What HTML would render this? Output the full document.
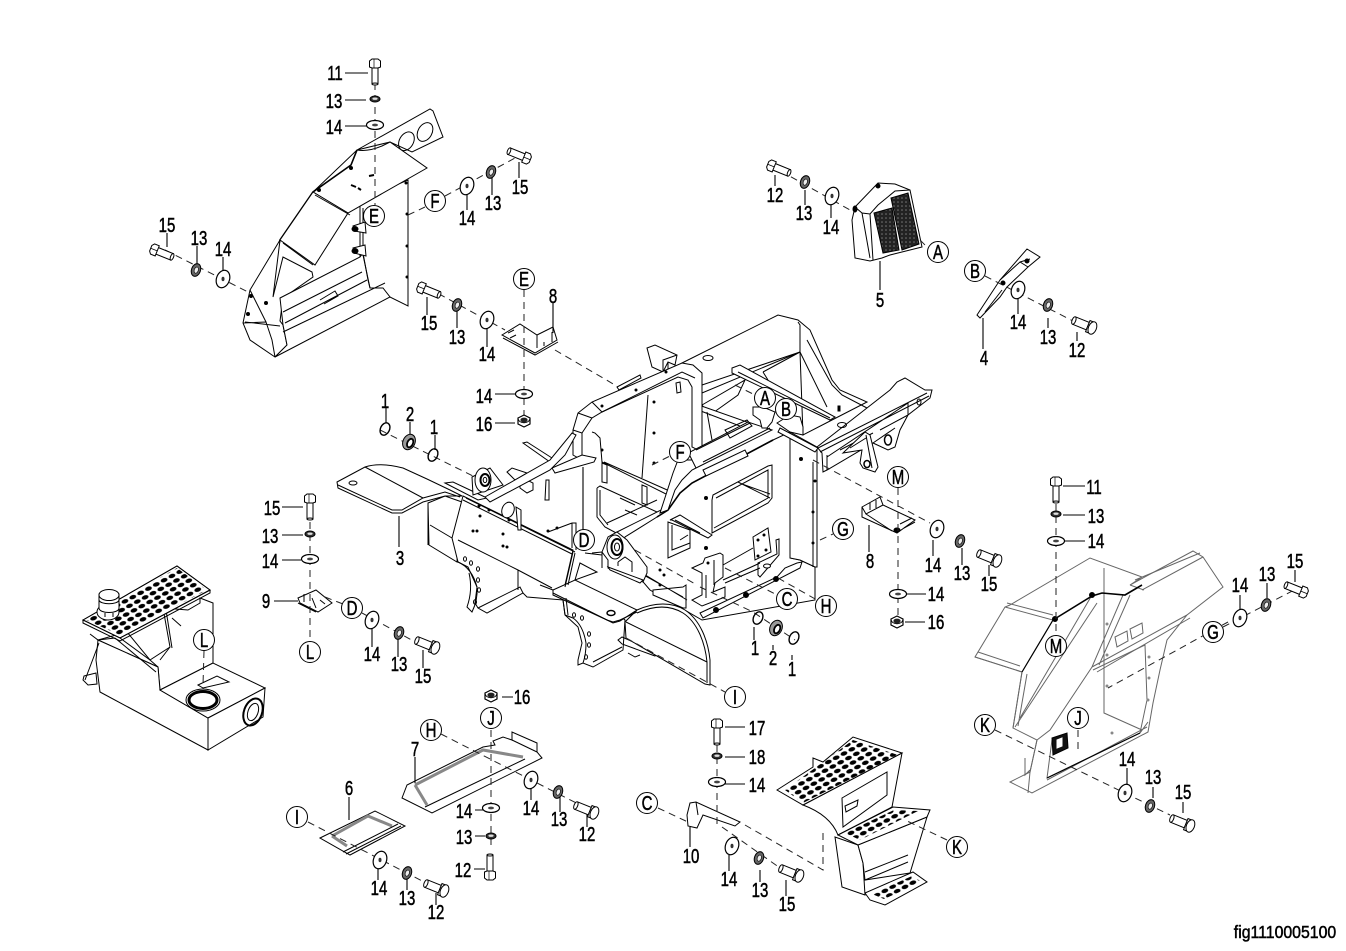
<!DOCTYPE html>
<html><head><meta charset="utf-8"><style>
html,body{margin:0;padding:0;background:#fff}
svg{display:block}
text{font-family:"Liberation Sans",sans-serif;font-size:20px;fill:#000;stroke:#000;stroke-width:.5;text-anchor:middle;dominant-baseline:central;transform-box:fill-box;transform-origin:center;transform:scaleX(.75)}
.p path,.p polygon,.p polyline,.p ellipse,.p circle{stroke:#000;stroke-width:1;fill:none}
.w{fill:#fff!important}
.b{fill:#000!important}
.t{stroke-width:1.6!important}
.g *{stroke:#666!important}
.d{stroke:#222;stroke-width:1;fill:none;stroke-dasharray:7 5}
.l{stroke:#000;stroke-width:1.1;fill:none}
.c{fill:#fff;stroke:#000;stroke-width:1}
.dots circle{fill:#000;stroke:none!important}
</style></head><body>
<svg width="1346" height="951" viewBox="0 0 1346 951" xmlns="http://www.w3.org/2000/svg">
<defs>
<pattern id="pd" width="9" height="9" patternUnits="userSpaceOnUse" patternTransform="matrix(.87 -.47 .5 .5 0 0)"><ellipse cx="4.5" cy="4.5" rx="3.4" ry="3.2" fill="#000"/></pattern>
<pattern id="ms" width="4" height="4" patternUnits="userSpaceOnUse"><rect width="4" height="4" fill="#222"/><circle cx="2" cy="2" r=".8" fill="#777"/></pattern>
<g id="wf"><ellipse cx="0" cy="0" rx="8.500" ry="4.500" fill="#fff" stroke="#000" stroke-width="1.2"/><ellipse cx="0" cy="0" rx="3" ry="1.400" fill="#444"/></g>
<g id="lf"><ellipse cx="0" cy="0" rx="5" ry="3" fill="#333" stroke="#000"/><ellipse cx="0" cy="-.3" rx="2.600" ry="1.200" fill="#ddd"/></g>
<g id="ws"><ellipse cx="0" cy="0" rx="6.500" ry="9" fill="#fff" stroke="#000" stroke-width="1.2" transform="rotate(20)"/><ellipse cx="0" cy="0" rx="1.500" ry="2.200" fill="#333"/></g>
<g id="ls"><ellipse cx="0" cy="0" rx="4.500" ry="6.500" fill="#666" stroke="#000" transform="rotate(20)"/><ellipse cx=".3" cy="0" rx="2" ry="3.200" fill="#eee" stroke="#000" stroke-width=".6" transform="rotate(20)"/></g>
<g id="nut"><path d="M-6-3L0-6 6-3V3L0 6-6 3Z" fill="#fff" stroke="#000" stroke-width="1.2"/><ellipse cx="0" cy="-1" rx="3.600" ry="2.400" fill="#222"/><path d="M-6-2C-4 3 4 3 6-2" fill="none" stroke="#000"/></g>
<g id="bv"><path d="M-3 5V22H3V5" fill="#fff" stroke="#000"/><path d="M-5.500 5V-1L-3-3H3L5.500-1V5L3 6H-3Z" fill="#fff" stroke="#000"/><path d="M-1 -3V6" fill="none" stroke="#000" stroke-width=".7"/><ellipse cx="0" cy="22" rx="3" ry="1" fill="#fff" stroke="#000"/></g>
<g id="bf"><path d="M-12-4H3V4H-12" fill="#fff" stroke="#000"/><ellipse cx="-12" cy="0" rx="1.800" ry="4" fill="#fff" stroke="#000"/><path d="M3-6H8V6H3Z" fill="#fff" stroke="#000"/><ellipse cx="8" cy="0" rx="4" ry="6.500" fill="#fff" stroke="#000"/></g>
<g id="bh"><path d="M-3-3.500H13V3.500H-3" fill="#fff" stroke="#000"/><ellipse cx="13" cy="0" rx="1.500" ry="3.500" fill="#fff" stroke="#000"/><path d="M-3-5.500H-8L-10-3V3L-8 5.500H-3Z" fill="#fff" stroke="#000"/><path d="M-10 0H-3" fill="none" stroke="#000" stroke-width=".7"/></g>
<g id="ring"><ellipse cx="0" cy="0" rx="4.500" ry="6.500" fill="none" stroke="#000" stroke-width="1.400" transform="rotate(25)"/></g>
<g id="bush"><ellipse cx="0" cy="0" rx="6" ry="8" fill="#999" stroke="#000" transform="rotate(25)"/><ellipse cx="1.500" cy=".5" rx="2.800" ry="4.500" fill="#fff" stroke="#000" stroke-width="1.800" transform="rotate(25)"/></g>
</defs>

<!-- LEFT FENDER -->
<g class="p">
<path class="w" d="M357 150L430 109 433 111 443 137 412 152 390 142Z"/>
<ellipse cx="406.500" cy="141" rx="7" ry="10" transform="rotate(30 406 141)"/>
<ellipse cx="425" cy="132" rx="7" ry="10" transform="rotate(30 425 132)"/>
<path class="w" d="M408 180V306L390 297H360V200Z"/>
<path class="w" d="M357 150Q368 152 382 146L390 142 427 168 348 213 313 192Z"/>
<path class="t" d="M357 150L351 165 313 192 280 240 267 297"/>
<path class="w" d="M313 192L348 213 315 265 280 240Z"/>
<path class="w" d="M250 290L280 240 273 297 283 257 312 272 313 277 283 298 280 321 283 325 287 345 275 357 250 340 243 323Z"/>
<path class="w" d="M280 298L360 257 363 253 368 280 370 288 383 288 390 297 275 357 287 345 283 325Z"/>
<path d="M360 208V253M363 208L363 255 370 288M283 312L362 272M285 323L367 280M283 332L385 283M245 322L280 326M243 323L266 322 272 340 275 357M266 322L250 290M320 300L335 291 338 296 324 304M315 195L350 215M283 243L313 265"/>
<g class="dots"><circle cx="351" cy="168" r="2"/><circle cx="319" cy="190" r="2"/><circle cx="406" cy="183" r="1.500"/><circle cx="407" cy="214" r="1.500"/><circle cx="407" cy="246" r="1.500"/><circle cx="407" cy="277" r="1.500"/><circle cx="251" cy="296" r="2"/><circle cx="248" cy="314" r="2"/><circle cx="266" cy="303" r="2"/></g>
<path d="M369 176L374 175M351 185L356 187M358 188L361 190" style="stroke-width:2"/>
<path class="w" d="M353 226L365 222 366 233 354 231ZM353 248L365 245 366 256 354 253Z"/>
<ellipse class="b" cx="355" cy="229" rx="3" ry="2.500"/><ellipse class="b" cx="355" cy="251" rx="3" ry="2.500"/>
</g>

<!-- MAIN FRAME -->
<g class="p">
<path class="w" d="M682 363L778 315 798 320 810 330 832 380 840 390 867 402 832 420 803 435 800 352 702 393Z"/>
<path d="M798 322L800 325V352L702 385M800 352L827 407M763 372L800 352M763 372L768 380M807 340L832 385 842 395 867 408"/>
<ellipse cx="708" cy="358" rx="5" ry="2.500"/>
<path class="w" d="M732 368L740 365 835 417 830 420 732 373Z"/>
<path d="M738 372L830 418"/>
<path d="M840 406V411L838 411V406Z" class="b"/>
<path class="w" d="M817 447L890 390 897 382 905 378 925 390 932 390 930 398 908 415 900 430 895 447 888 450 873 443 827 470 823 472 822 453Z"/>
<path d="M818 448L927 393M820 452L929 396M827 457L908 403V415M827 470V455M840 450L873 433M873 443L895 428M908 415L880 430"/>
<path class="w" d="M843 453L865 432 870 435 878 467 875 472 863 468 860 463 862 450Z"/>
<path d="M866 435L872 468M850 448L866 438"/>
<ellipse cx="867" cy="464" rx="3" ry="3.500" style="stroke-width:1.500"/>
<ellipse cx="888" cy="440" rx="3.500" ry="5" style="stroke-width:1.500"/>
<ellipse cx="842" cy="425" rx="4.500" ry="2.500"/>
<ellipse cx="919" cy="402" rx="2" ry="3"/>
<path class="w" d="M647 348L655 345 677 355 675 365 668 362 663 372 652 367Z"/>
<path d="M663 372V360L677 355M668 362V372"/>
<path class="w" d="M702 405L745 380 738 395 710 415Z"/>
<path class="w" d="M693 403L747 422 745 428 693 408Z"/>
<path d="M707 412L712 440"/>
<path class="w" d="M617 387L640 375 641 378 619 390Z"/>
<path class="w" d="M573 455V430L578 413 592 402 682 363 693 365 702 373V452L692 447V387L688 380 678 377 602 412 592 418 582 433V460Z"/>
<path d="M578 413L592 418M592 402L602 412M582 433L573 430M602 412L682 372 695 378"/>
<path d="M592 432L595 433 600 438 602 462 672 497M604 462L674 493"/>
<path d="M648 395L642 478"/>
<path class="w" d="M602 463L607 465V483L602 482ZM642 485L647 487V505L642 503Z"/>
<path class="w" d="M552 468L582 455 596 458 594 462 555 473Z"/>
<path class="w" d="M676 383L680 382 681 392 677 393Z"/>
<g class="dots"><circle cx="654" cy="402" r="1.500"/><circle cx="654" cy="433" r="1.500"/><circle cx="654" cy="463" r="1.500"/><circle cx="602" cy="406" r="1.500"/><circle cx="636" cy="390" r="1.500"/><circle cx="666" cy="372" r="1.500"/><circle cx="602" cy="450" r="1.500"/></g>
<path d="M597 488L600 486 657 512M597 488V517L605 527 620 535M600 490V515L608 525M607 523L657 500M615 533L665 508M625 510L637 515M620 498L635 505"/>
<path class="w" d="M657 517L668 510 680 493 692 483 773 440 790 432V558L800 560 815 567V600L702 620 650 590 620 555 625 537Z"/>
<path class="w" d="M790 432L817 447V567L815 567 800 560 790 558Z"/>
<path d="M813 462V567M790 436L814 450"/>
<path class="t" d="M657 517L668 510 680 493 692 483 773 440"/>
<path class="w" d="M673 473L678 460 690 452 748 422 772 430 700 466 692 470 682 480 675 490 668 510 660 513Z"/>
<path d="M678 460L692 460M703 462L770 428M688 452L696 468"/>
<path class="w" d="M703 470L745 450 748 456 706 476Z"/>
<path d="M696 450L750 423M725 430L747 420 752 426 730 438Z"/>
<path class="w" d="M712 500L713 495 768 466 772 465V498L768 503 712 533Z"/>
<path d="M716 498L768 470V498L714 528M738 482L770 498M742 484L770 494"/>
<path class="w" d="M668 522L690 530V548L668 558Z"/>
<path class="w" d="M670 520L680 515 712 535 708 538 672 520Z"/>
<path d="M672 525V550L690 543M675 520L700 533M680 540L688 535"/>
<path class="w" d="M753 537L768 528 771 552 755 560Z"/>
<path class="w" d="M758 563L777 554 776 540 779 539V555L760 577 758 575Z"/>
<path d="M723 565L753 548M723 580L760 563M725 583L760 568"/>
<ellipse class="w" cx="767" cy="566" rx="3.500" ry="2"/>
<path class="w" d="M692 568L703 563 705 558 720 553 723 555V577L715 583 713 592 725 587V597L702 606 692 600 702 595V573Z"/>
<path d="M706 575V598M714 560V585"/>
<path class="w" d="M700 613L777 577 785 568 797 563 802 562 800 568 703 618Z"/>
<ellipse class="b" cx="716" cy="610" rx="2.500" ry="2.500"/><ellipse class="b" cx="746" cy="595" rx="2.500" ry="2.500"/><ellipse class="b" cx="776" cy="579" rx="2.500" ry="2.500"/>
<g class="dots"><circle cx="706" cy="498" r="2"/><circle cx="706" cy="548" r="2"/><circle cx="708" cy="563" r="1.500"/><circle cx="815" cy="481" r="1.500"/><circle cx="813" cy="512" r="1.500"/><circle cx="813" cy="543" r="1.500"/><circle cx="801" cy="459" r="2"/><circle cx="758" cy="540" r="1.500"/><circle cx="764" cy="535" r="1.500"/><circle cx="758" cy="556" r="1.500"/><circle cx="766" cy="550" r="1.500"/><circle cx="664" cy="575" r="1.500"/><circle cx="664" cy="590" r="1.500"/><circle cx="660" cy="570" r="1.500"/><circle cx="660" cy="585" r="1.500"/></g>
<path class="w" d="M753 407L763 407 775 412 772 422 767 428 762 428 760 420 753 415Z"/>
<path class="w" d="M777 423L790 415 800 417 803 427V435L790 432Z"/>
<path class="w" d="M780 428L818 448 815 452 778 432Z"/>
<path class="w" d="M428 503L445 496 462 502 458 540 457 562 429 545Z"/>
<path d="M430 525L452 538"/>
<path class="w" d="M463 496L573 550 565 585 563 600 527 597 523 593 487 613 478 608 475 603 477 587 468 567 458 562 452 538Z"/>
<path d="M466 498L575 552M463 500L572 554M458 540L518 570 552 588M518 570V590M478 608L520 587 523 593M540 585L553 590"/>
<path d="M458 562Q472 568 477 587 478 600 472 612L467 607Q473 590 469 573"/>
<g class="dots"><circle cx="479" cy="506" r="1.500"/><circle cx="489" cy="510" r="1.500"/><circle cx="480" cy="516" r="1.500"/><circle cx="509" cy="520" r="1.500"/><circle cx="503" cy="534" r="1.500"/><circle cx="473" cy="531" r="1.500"/><circle cx="477" cy="531" r="1.500"/><circle cx="503" cy="546" r="1.500"/><circle cx="507" cy="547" r="1.500"/><circle cx="548" cy="531" r="1.500"/><circle cx="557" cy="528" r="1.500"/></g>
<g><ellipse cx="465" cy="559" rx="1.500" ry="2.200"/><ellipse cx="471" cy="563" rx="1.500" ry="2.200"/><ellipse cx="478" cy="569" rx="1.500" ry="2.200"/><ellipse cx="478" cy="580" rx="1.500" ry="2.200"/><ellipse cx="479" cy="590" rx="1.500" ry="2.200"/><ellipse cx="475" cy="602" rx="1.500" ry="2.200"/></g>
<path d="M572 523L576 523V550M572 523V548M548 532L572 523"/>
<path class="w" d="M445 483L453 482 487 498 478 500Z"/>
<path class="w" d="M523 443L527 442 552 458 550 462Z"/>
<path class="w" d="M507 472L512 468 527 473 515 480Z"/>
<path class="w" d="M520 483L527 480 533 483V490L527 493 520 488Z"/>
<path class="w" d="M546 480H549V500H545ZM516 507L518 530 521 530 521 510Z"/>
<ellipse class="w" cx="508" cy="510" rx="6" ry="8" transform="rotate(20 508 510)"/>
<path class="w" d="M472 477L490 468 503 485 473 495Z"/>
<path class="w" d="M485 497L550 460 572 433 576 435 565 455 550 470 490 502Z"/>
<ellipse class="w" cx="483" cy="480" rx="8" ry="12"/>
<ellipse cx="485" cy="480" rx="4.500" ry="6" style="stroke-width:2"/>
<ellipse cx="485" cy="480" rx="1.800" ry="2.600"/>
<path class="w" d="M337 482L365 467Q380 462 403 468L427 479 450 490 462 496 445 496 423 502 402 513H392L338 488Z"/>
<path d="M365 467L423 498M338 485L392 510H402L423 498 445 492 460 497M428 503V545"/>
<ellipse class="w" cx="353" cy="483" rx="4" ry="2"/>
<path class="w" d="M563 600L565 615 578 627 582 643 578 660 578 665 583 663 593 667 623 650 625 620 575 580Z"/>
<path d="M565 615L573 618Q583 625 586 643 586 655 583 663M593 662L622 647M618 640L622 637 658 653 655 656 622 644ZM628 653L635 657 640 655"/>
<g><ellipse cx="574" cy="615" rx="1.500" ry="2.200"/><ellipse cx="582" cy="618" rx="1.500" ry="2.200"/><ellipse cx="589" cy="634" rx="1.500" ry="2.200"/><ellipse cx="589" cy="645" rx="1.500" ry="2.200"/><ellipse cx="586" cy="657" rx="1.500" ry="2.200"/></g>
<path class="w" d="M637 610C655 602 672 602 685 610 700 620 708 640 710 660V685L705 684 626 638 625 622Z"/>
<path d="M637 613C655 605 670 605 683 613 697 622 705 642 707 662V683M626 622L707 662"/>
<path class="w" d="M653 590L683 587 686 585V608H683L653 595Z"/>
<path d="M637 570L687 600M640 573L683 597"/>
<path class="w" d="M580 563L597 572 575 580Z"/>
<path class="w" d="M553 590L575 580 637 610 620 621 613 623 607 620 553 595Z"/>
<path d="M553 593L607 620 613 622 620 620 637 612"/>
<ellipse cx="611" cy="613" rx="4" ry="2.500" style="stroke-width:1.500"/>
<path d="M573 552L565 587M575 553L568 585M563 600L565 615M566 598L568 615"/>
<path class="w" d="M602 552L608 537 617 532 627 540 647 567V573L643 582 608 568V560Z"/>
<path d="M592 553L602 552M585 553L602 555M602 552L602 568"/>
<path class="w" d="M608 567L643 580 640 583 610 570Z"/>
<path d="M618 562L625 557 632 562V572M618 562V566"/>
<ellipse class="w" cx="615" cy="547" rx="8" ry="12"/>
<ellipse cx="617" cy="547" rx="5.500" ry="8" style="stroke-width:2"/>
<ellipse cx="617" cy="547" rx="2.500" ry="4"/>
</g>

<!-- small parts -->
<g class="p">
<path class="w" d="M502 335L520 324 537 335 553 327 557 340 535 353Z"/>
<path d="M503 338L535 355 558 342M537 335V348M544 342V346M552 332V342M508 333L514 330M510 338L516 335"/>
<path class="w" d="M862 507L880 497 883 505 915 520 897 533 862 517Z"/>
<path d="M866 514L892 531M862 507L866 514 883 505M870 503V510M876 500V508M900 524L912 518M904 528L915 522"/>
<ellipse class="b" cx="897" cy="530" rx="3" ry="2"/>
<path class="w" d="M298 598L316 590 332 603 318 612 300 603Z"/>
<path d="M298 603L316 612M304 594V602M312 598L316 608M320 600L325 604"/>
<path class="w" d="M687 815L690 803 696 802 740 822 735 826 703 815 697 828 688 826Z"/>
<path d="M696 802L698 815"/>
<path class="w" d="M855 207L878 183 895 184 910 190 922 247 890 255 882 258 870 261 855 258 852 220Z"/>
<path d="M855 207L862 213 870 214 878 205 895 191 910 190M862 213L870 258M870 214L873 260"/>
<polygon points="874,213 892,208 899,250 883,253" style="fill:url(#ms)"/>
<polygon points="891,198 908,193 919,244 902,250" style="fill:url(#ms)"/>
<ellipse class="b" cx="855" cy="209" rx="2" ry="3"/><ellipse class="b" cx="878" cy="186" rx="2" ry="2"/>
<path class="w" d="M977 315L1000 280 1027 249 1040 257 1028 267 1007 287 1000 297 980 318Z"/>
<path d="M1000 280L1020 262 1028 267M1002 290L985 312M1020 262L1030 259"/>
<circle class="b" cx="1003" cy="283" r="2"/><circle class="b" cx="1027" cy="261" r="2"/>
<path class="w" d="M402 798L407 785 483 747 495 745 493 741 503 737 512 740V732L537 743V752L542 758 432 813Z"/>
<path d="M425 807L525 759"/>
<path style="stroke:#888;stroke-width:3" d="M415 785L483 750 523 757M415 785L427 805"/>
<path d="M512 740L537 752"/>
<path class="w" d="M320 838L375 811 405 826 350 855Z"/>
<path style="stroke:#888;stroke-width:3" d="M332 836L368 816 392 826M332 836L347 846"/>
<path d="M343 852L398 824M346 854L401 826"/>
</g>

<!-- TANK -->
<g class="p">
<path class="w" d="M98 640L158 667 160 690 213 663V603L200 598V603L188 610 163 608 127 632Z"/>
<path class="w" d="M98 640L158 667 160 690 208 718V750L100 692 96 660Z"/>
<path class="w" d="M160 690L213 663 265 688 208 718Z"/>
<path class="w" d="M208 718L265 688 263 717 208 750Z"/>
<path class="w" d="M163 608L170 647 150 660 127 632Z"/>
<path d="M166 610L172 648M170 647L160 660M120 638L150 660 158 667M115 638L156 672M90 634L98 640 115 638M99 643L85 680M84 676L96 673 97 684 88 685 83 680Z"/>
<path class="w" d="M83 620L177 566 210 590 120 638Z"/>
<polygon points="86,620 177,568 207,590 120,635" style="fill:url(#pd);stroke:none"/>
<path d="M83 620L177 566 210 590 120 638ZM83 620L83 623 120 641 210 593V590"/>
<path d="M172 618L181 626"/>
<ellipse class="w" cx="108" cy="612" rx="11" ry="8"/>
<path class="w" d="M99 594H119V608C119 614 99 614 99 608Z"/>
<ellipse class="w" cx="109" cy="595" rx="10" ry="5.500"/>
<path d="M99 600C100 605 118 605 119 600M105 613V617M113 613V617"/>
<path class="w" d="M198 685L217 676 229 682 203 688Z"/>
<ellipse cx="203" cy="700" rx="17" ry="11" style="fill:#fff;stroke-width:1"/>
<ellipse cx="203" cy="700" rx="14" ry="8.500" style="stroke-width:3"/>
<ellipse cx="253" cy="712" rx="9" ry="14" transform="rotate(20 253 712)" style="stroke-width:2"/>
<ellipse cx="253" cy="712" rx="5" ry="9" transform="rotate(20 253 712)"/>
</g>

<!-- STEP UNIT -->
<g class="p">
<path class="w" d="M835 837L842 887 865 895 863 863 858 845Z"/>
<path class="w" d="M858 845L927 817 910 873 865 880 863 863Z"/>
<path d="M865 872L908 855M865 880L908 862"/>
<path class="w" d="M803 805L902 753 892 807 838 835Q830 815 803 805Z"/>
<path class="w" d="M842 798L887 772V795L843 827Z"/>
<path class="w" d="M845 806L858 800 857 806 846 812Z"/>
<path class="w" d="M777 790L813 767 813 758 823 762 853 737 902 753 803 805Z"/>
<polygon points="785,790 853,740 898,755 803,803" style="fill:url(#pd);stroke:none"/>
<path class="w" d="M838 835L893 807 930 810 927 817 858 845Z"/>
<polygon points="845,833 894,810 918,811 860,840" style="fill:url(#pd);stroke:none"/>
<path class="w" d="M865 893L913 872 927 882 885 905 870 900Z"/>
<polygon points="872,894 912,876 922,882 884,899" style="fill:url(#pd);stroke:none"/>
</g>

<!-- RIGHT FENDER -->
<g class="p g">
<path class="w" d="M1010 605L1090 558 1142 577 1130 585 1193 551 1203 557 1223 587 1187 615 1167 640 1160 670 1153 703 1148 732 1032 793 1010 782 1030 772 1037 740 1013 728 1022 672 975 657 1005 607Z"/>
<path d="M1005 607L1053 620 1022 672M975 657L1022 672M978 652L1020 666M1007 603L1053 615M1130 585L1144 590M1135 580L1200 553M1142 590L1203 557"/>
<path d="M1104 568V713L1142 730M1097 603L1015 727M1092 595L1020 718"/>
<path d="M1123 595L1092 667 1050 730 1037 740M1130 595L1099 665M1092 667L1187 615M1097 672L1190 618"/>
<path d="M1093 670L1145 645 1147 700 1140 733"/>
<path d="M1022 672L1013 728M1027 674L1018 726"/>
<path d="M1052 740L1047 778 1140 733 1148 722M1047 780L1147 727"/>
<path d="M1115 637L1127 631 1128 641 1117 647ZM1130 629L1142 623 1143 633 1132 639Z"/>
<path d="M1030 772L1028 793M1025 758L1025 775 1030 770M1037 740L1030 772"/>
</g>
<g class="p">
<path style="stroke:#000;stroke-width:1.600" d="M1053 620L1092 596 1102 593 1125 595 1142 585"/>
<path style="stroke:#000;stroke-width:1.200" d="M1047 778L1140 733M1022 672L1053 620"/>
<path style="fill:#111" d="M1052 738L1067 733 1068 748 1053 755Z"/>
<path style="fill:#fff;stroke:#fff" d="M1057 740L1062 738V746L1057 748Z"/>
<circle class="b" cx="1055" cy="619" r="2.500"/><circle class="b" cx="1092" cy="595" r="2.500"/>
</g>
<g style="fill:#888"><circle cx="1107" cy="624" r="1.500"/><circle cx="1107" cy="655" r="1.500"/><circle cx="1107" cy="686" r="1.500"/><circle cx="1149" cy="657" r="1.500"/><circle cx="1149" cy="678" r="1.500"/><circle cx="1148" cy="700" r="1.500"/><circle cx="1112" cy="733" r="1.500"/></g>

<!-- dashed lines -->
<path class="d" d="M375 83V205M165 250L250 293M408 215L425 207M445 196L515 158M428 288L505 330M555 350L615 385M524 290V415M380 430L475 477M325 597L343 604M362 613L430 650M310 510V640M204 651L203 685M652 465L670 456M735 385L755 395M813 460L930 523M898 488V620M820 540L833 534M725 568L777 595M778 578L817 600M635 550L697 585M700 587L753 612L795 640M626 638L725 692M1056 480V636M1228 622L1108 688M995 730L1170 815M1078 730V752M1223 627L1300 587M441 734L590 810M491 730V850M308 822L430 885M947 840L905 820M658 808L688 822M745 825L823 870V833M717 745V825M722 827L790 875M770 165L850 210M920 240L928 248M985 276L1075 322"/>

<!-- solid leaders -->
<path class="l" d="M345 73H368M345 100H366M345 126H367M167 233V247M197 246V266M223 257V273M519 162V178M492 175V195M467 192V210M427 297V315M457 310V328M487 327V347M553 303V333M495 394H517M495 423H515M386 408V423M410 422V436M435 435V450M399 516V547M282 507H303M282 535H303M282 560H301M274 601H298M372 627V647M398 638V657M423 650V668M502 697H513M415 757V783M475 810H485M475 836H485M474 869H485M531 788V800M560 797V812M587 813V827M349 797V820M378 863V880M407 878V890M436 893V905M725 727H745M725 757H745M725 784H745M690 827V847M729 855V871M760 870V882M786 880V896M754 627V640M773 645V650M792 655V660M869 525V552M905 594H926M905 622H925M933 540V556M962 548V565M989 565V576M1063 486H1085M1063 515H1085M1063 541H1085M1295 570V582M1267 583V598M1240 595V610M1127 768V786M1153 787V798M1183 802V813M775 175V186M805 190V205M831 205V218M880 261V290M983 318V349M1018 298V314M1048 318V328M1077 332V341M583 467V532"/>

<!-- fasteners -->
<use href="#bv" x="375" y="62"/><use href="#bv" x="310" y="497"/><use href="#bv" x="1056" y="480"/><use href="#bv" x="717" y="722"/>
<use href="#bv" transform="translate(490 877) scale(1 -1)"/>
<use href="#wf" x="375" y="125"/><use href="#wf" x="524" y="394"/><use href="#wf" x="310" y="559"/><use href="#wf" x="898" y="594"/><use href="#wf" x="1056" y="541"/><use href="#wf" x="491" y="808"/><use href="#wf" x="717" y="782"/>
<use href="#lf" x="375" y="99"/><use href="#lf" x="310" y="534"/><use href="#lf" x="1056" y="514"/><use href="#lf" x="491" y="836"/><use href="#lf" x="717" y="756"/>
<use href="#ws" x="223" y="279"/><use href="#ws" x="467" y="186"/><use href="#ws" x="487" y="320"/><use href="#ws" x="372" y="620"/><use href="#ws" x="832" y="196"/><use href="#ws" x="1018" y="290"/><use href="#ws" x="937" y="529"/><use href="#ws" x="1240" y="618"/><use href="#ws" x="1125" y="793"/><use href="#ws" x="531" y="780"/><use href="#ws" x="380" y="860"/><use href="#ws" x="732" y="846"/>
<use href="#ls" x="196" y="270"/><use href="#ls" x="491" y="172"/><use href="#ls" x="457" y="305"/><use href="#ls" x="399" y="633"/><use href="#ls" x="805" y="182"/><use href="#ls" x="1048" y="305"/><use href="#ls" x="960" y="541"/><use href="#ls" x="1266" y="605"/><use href="#ls" x="1150" y="806"/><use href="#ls" x="558" y="792"/><use href="#ls" x="407" y="873"/><use href="#ls" x="759" y="858"/>
<use href="#nut" x="524" y="421"/><use href="#nut" x="897" y="622"/><use href="#nut" x="491" y="696"/>
<use href="#ring" x="385" y="429"/><use href="#ring" x="433" y="455"/><use href="#ring" x="758" y="618"/><use href="#ring" x="794" y="638"/>
<use href="#bush" x="409" y="442"/><use href="#bush" x="776" y="628"/>
<use href="#bf" transform="translate(428 645) rotate(22)"/><use href="#bf" transform="translate(990 558) rotate(22)"/><use href="#bf" transform="translate(1085 325) rotate(22)"/><use href="#bf" transform="translate(1183 823) rotate(22)"/><use href="#bf" transform="translate(587 810) rotate(22)"/><use href="#bf" transform="translate(437 888) rotate(22)"/><use href="#bf" transform="translate(792 873) rotate(22)"/>
<use href="#bh" transform="translate(160 252) rotate(22)"/><use href="#bh" transform="translate(777 168) rotate(22)"/><use href="#bh" transform="translate(427 290) rotate(22)"/>
<use href="#bh" transform="translate(521 156) rotate(202)"/><use href="#bh" transform="translate(1298 590) rotate(202)"/>

<!-- circled letters -->
<g><circle class="c" cx="374" cy="216" r="10.500"/><text x="374" y="216">E</text>
<circle class="c" cx="435" cy="201" r="10.500"/><text x="435" y="201">F</text>
<circle class="c" cx="524" cy="279" r="10.500"/><text x="524" y="279">E</text>
<circle class="c" cx="352" cy="608" r="10.500"/><text x="352" y="608">D</text>
<circle class="c" cx="310" cy="652" r="10.500"/><text x="310" y="652">L</text>
<circle class="c" cx="204" cy="640" r="10.500"/><text x="204" y="640">L</text>
<circle class="c" cx="584" cy="540" r="10.500"/><text x="584" y="540">D</text>
<circle class="c" cx="765" cy="398" r="10.500"/><text x="765" y="398">A</text>
<circle class="c" cx="786" cy="409" r="10.500"/><text x="786" y="409">B</text>
<circle class="c" cx="680" cy="452" r="10.500"/><text x="680" y="452">F</text>
<circle class="c" cx="843" cy="529" r="10.500"/><text x="843" y="529">G</text>
<circle class="c" cx="787" cy="599" r="10.500"/><text x="787" y="599">C</text>
<circle class="c" cx="826" cy="606" r="10.500"/><text x="826" y="606">H</text>
<circle class="c" cx="898" cy="477" r="10.500"/><text x="898" y="477">M</text>
<circle class="c" cx="938" cy="252" r="10.500"/><text x="938" y="252">A</text>
<circle class="c" cx="975" cy="271" r="10.500"/><text x="975" y="271">B</text>
<circle class="c" cx="1056" cy="646" r="10.500"/><text x="1056" y="646">M</text>
<circle class="c" cx="1213" cy="632" r="10.500"/><text x="1213" y="632">G</text>
<circle class="c" cx="1078" cy="718" r="10.500"/><text x="1078" y="718">J</text>
<circle class="c" cx="985" cy="725" r="10.500"/><text x="985" y="725">K</text>
<circle class="c" cx="735" cy="697" r="10.500"/><text x="735" y="697">I</text>
<circle class="c" cx="431" cy="730" r="10.500"/><text x="431" y="730">H</text>
<circle class="c" cx="491" cy="718" r="10.500"/><text x="491" y="718">J</text>
<circle class="c" cx="297" cy="817" r="10.500"/><text x="297" y="817">I</text>
<circle class="c" cx="647" cy="803" r="10.500"/><text x="647" y="803">C</text>
<circle class="c" cx="957" cy="847" r="10.500"/><text x="957" y="847">K</text></g>

<!-- number labels -->
<g>
<text x="335" y="73">11</text><text x="334" y="101">13</text><text x="334" y="127">14</text><text x="167" y="225">15</text><text x="199" y="238">13</text><text x="223" y="249">14</text><text x="520" y="187">15</text><text x="467" y="218">14</text><text x="493" y="203">13</text><text x="429" y="323">15</text><text x="457" y="337">13</text><text x="487" y="354">14</text><text x="553" y="296">8</text><text x="484" y="396">14</text><text x="484" y="424">16</text><text x="385" y="401">1</text><text x="410" y="414">2</text><text x="434" y="427">1</text><text x="400" y="558">3</text><text x="272" y="508">15</text><text x="270" y="536">13</text><text x="270" y="561">14</text><text x="266" y="601">9</text><text x="372" y="654">14</text><text x="399" y="664">13</text><text x="423" y="676">15</text><text x="522" y="697">16</text><text x="415" y="749">7</text><text x="464" y="811">14</text><text x="464" y="837">13</text><text x="463" y="870">12</text><text x="531" y="808">14</text><text x="559" y="819">13</text><text x="587" y="834">12</text><text x="349" y="788">6</text><text x="379" y="888">14</text><text x="407" y="898">13</text><text x="436" y="912">12</text><text x="757" y="728">17</text><text x="757" y="757">18</text><text x="757" y="785">14</text><text x="691" y="856">10</text><text x="729" y="879">14</text><text x="760" y="890">13</text><text x="787" y="904">15</text><text x="755" y="648">1</text><text x="773" y="658">2</text><text x="792" y="669">1</text><text x="870" y="561">8</text><text x="936" y="594">14</text><text x="936" y="622">16</text><text x="933" y="565">14</text><text x="962" y="573">13</text><text x="989" y="584">15</text><text x="1094" y="487">11</text><text x="1096" y="516">13</text><text x="1096" y="541">14</text><text x="1295" y="561">15</text><text x="1267" y="574">13</text><text x="1240" y="585">14</text><text x="1127" y="759">14</text><text x="1153" y="777">13</text><text x="1183" y="792">15</text><text x="775" y="195">12</text><text x="804" y="213">13</text><text x="831" y="227">14</text><text x="880" y="300">5</text><text x="984" y="358">4</text><text x="1018" y="322">14</text><text x="1048" y="337">13</text><text x="1077" y="350">12</text>
<text x="1285" y="932" style="font-size:18px;transform:scaleX(.88)">fig1110005100</text>
</g>
</svg>
</body></html>
